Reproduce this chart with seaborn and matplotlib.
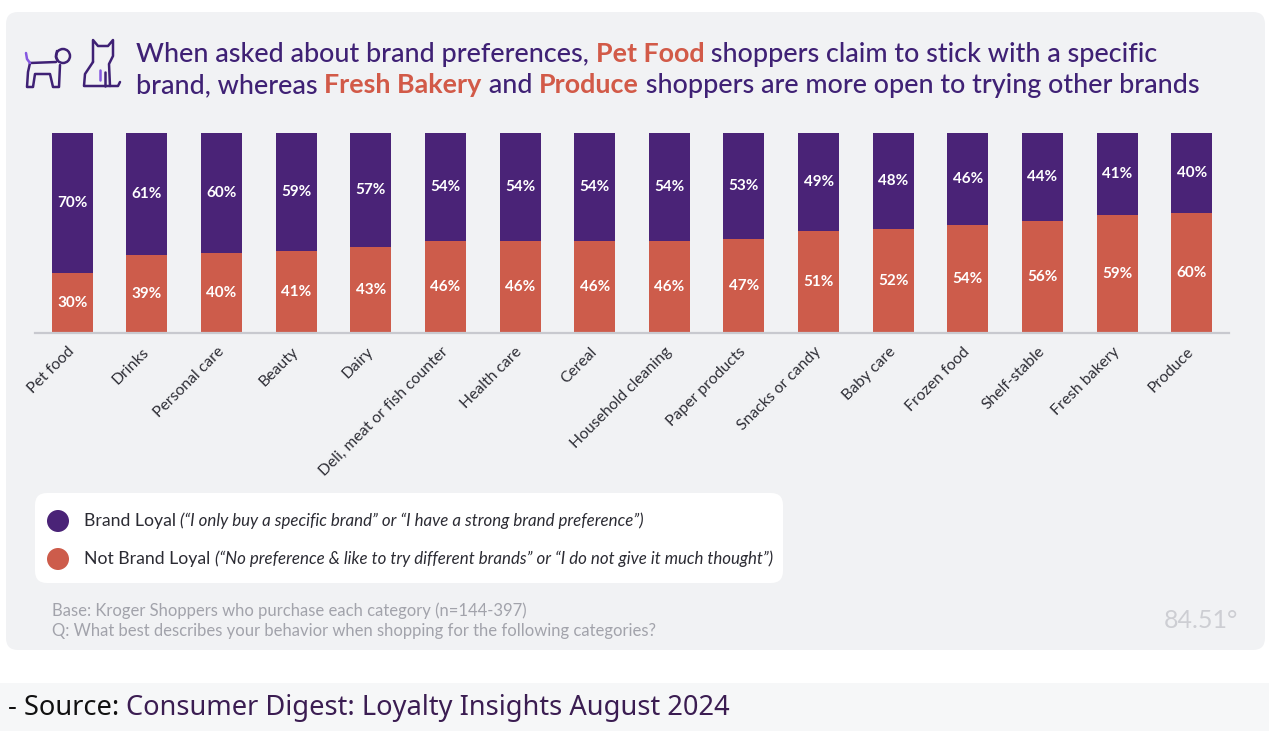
import matplotlib
matplotlib.use("Agg")
import matplotlib.pyplot as plt
import seaborn as sns
import pandas as pd
from matplotlib.patches import FancyBboxPatch, Rectangle, Circle
from matplotlib.lines import Line2D

categories = ["Pet food", "Drinks", "Personal care", "Beauty", "Dairy",
              "Deli, meat or fish counter", "Health care", "Cereal",
              "Household cleaning", "Paper products", "Snacks or candy",
              "Baby care", "Frozen food", "Shelf-stable", "Fresh bakery", "Produce"]
brand_loyal = [70, 61, 60, 59, 57, 54, 54, 54, 54, 53, 49, 48, 46, 44, 41, 40]
not_loyal = [30, 39, 40, 41, 43, 46, 46, 46, 46, 47, 51, 52, 54, 56, 59, 60]

title_line1 = [("When asked about brand preferences, ", "p"), ("Pet Food", "o"),
               (" shoppers claim to stick with a specific", "p")]
title_line2 = [("brand, whereas ", "p"), ("Fresh Bakery", "o"), (" and ", "p"),
               ("Produce", "o"), (" shoppers are more open to trying other brands", "p")]
legend_main = ["Brand Loyal", "Not Brand Loyal"]
legend_note = ["(\u201cI only buy a specific brand\u201d or \u201cI have a strong brand preference\u201d)",
               "(\u201cNo preference & like to try different brands\u201d or \u201cI do not give it much thought\u201d)"]
footnotes = ["Base: Kroger Shoppers who purchase each category (n=144-397)",
             "Q: What best describes your behavior when shopping for the following categories?"]

PURPLE = "#4a2377"
ORANGE = "#cd5c4b"
TITLE_P = "#3f2175"
TITLE_O = "#d25a48"

sns.set_theme(style="white")
plt.rcParams['font.family'] = ['Lato', 'DejaVu Sans']

W, H = 1276, 738
fig = plt.figure(figsize=(W / 100, H / 100), dpi=100)
fig.patch.set_facecolor("white")

# background canvas in pixel coordinates
bg = fig.add_axes([0, 0, 1, 1], zorder=0)
bg.set_xlim(0, W)
bg.set_ylim(H, 0)
bg.axis("off")

bg.add_patch(FancyBboxPatch((6, 12), 1259, 638, boxstyle="round,pad=0,rounding_size=12",
                            facecolor="#f1f2f4", edgecolor="none"))
bg.add_patch(FancyBboxPatch((35, 493), 748, 90, boxstyle="round,pad=0,rounding_size=12",
                            facecolor="white", edgecolor="none"))
bg.add_patch(Rectangle((0, 683), 1269, 48, facecolor="#f6f7f8", edgecolor="none"))

# icons (dog and cat outlines)
lw = 1.8
dog = [(30, 63), (28, 72), (27, 87), (33, 87), (35, 74), (50, 74), (53, 87), (59, 87), (60, 65)]
bg.add_line(Line2D(*zip(*dog), color=TITLE_P, lw=lw, solid_joinstyle="round"))
bg.add_line(Line2D([30, 56], [63, 62], color=TITLE_P, lw=lw))
bg.add_patch(Circle((63, 56), 7, facecolor="none", edgecolor=TITLE_P, lw=lw))
bg.add_line(Line2D([57, 56, 58], [51, 57, 61], color=TITLE_P, lw=lw))
bg.add_line(Line2D([26, 27, 30], [53, 59, 63], color="#8557e0", lw=lw))
cat = [(93, 62), (93, 40), (98, 46), (108, 46), (113, 40), (113, 56), (109, 64), (110, 86)]
bg.add_line(Line2D(*zip(*cat), color=TITLE_P, lw=lw, solid_joinstyle="round"))
cat2 = [(93, 62), (85, 74), (84, 86), (118, 86), (120, 82)]
bg.add_line(Line2D(*zip(*cat2), color=TITLE_P, lw=lw, solid_joinstyle="round"))
bg.add_line(Line2D([105, 105], [72, 86], color=TITLE_P, lw=lw))
bg.add_line(Line2D([100, 100], [70, 80], color="#8557e0", lw=lw))

fig.canvas.draw()
renderer = fig.canvas.get_renderer()


def text_width(s, **kw):
    t1 = bg.text(0, 0, "X" + s + "X", **kw)
    t2 = bg.text(0, 0, "XX", **kw)
    w = t1.get_window_extent(renderer).width - t2.get_window_extent(renderer).width
    t1.remove()
    t2.remove()
    return w


def rich_line(x, y, pieces, size, colors, weights):
    for s, key in pieces:
        kw = dict(fontsize=size, color=colors[key], fontweight=weights[key])
        bg.text(x, y, s, va="baseline", ha="left", **kw)
        x += text_width(s, **kw)


tcolors = {"p": TITLE_P, "o": TITLE_O}
tweights = {"p": "medium", "o": "bold"}
rich_line(136, 62, title_line1, 19.4, tcolors, tweights)
rich_line(136, 93, title_line2, 19.4, tcolors, tweights)

# legend
for i, (main, note, col) in enumerate(zip(legend_main, legend_note, [PURPLE, ORANGE])):
    yy = 521 + 38 * i
    bg.add_patch(Circle((58, yy), 11, facecolor=col, edgecolor="none"))
    kw = dict(fontsize=12.7, color="#2b2b33")
    bg.text(84, yy, main, va="center", ha="left", **kw)
    x2 = 84 + text_width(main + " ", **kw)
    bg.text(x2, yy, note, va="center", ha="left", fontsize=12.2, style="italic", color="#2b2b33")

for i, line in enumerate(footnotes):
    bg.text(52, 611 + 20 * i, line, va="center", ha="left", fontsize=12, color="#a2a3ab")

bg.text(1238, 620, "84.51\u00b0", va="center", ha="right", fontsize=18, color="#cdced3")

# source
src_font = ["Noto Sans", "DejaVu Sans"]
src_kw = dict(fontsize=19.6, va="center", ha="left", family=src_font)
bg.text(8, 708, "- Source: ", color="#111111", **src_kw)
sx = 8 + text_width("- Source: ", fontsize=19.6, family=src_font)
bg.text(sx, 708, "Consumer Digest: Loyalty Insights August 2024", color="#3b1d52", **src_kw)

# main chart
ax = fig.add_axes([35 / W, 1 - 333 / H, (1229 - 35) / W, 200 / H], zorder=1)
ax.patch.set_alpha(0)

df = pd.DataFrame({"category": categories, "loyal": brand_loyal, "not_loyal": not_loyal})
df["total"] = df["loyal"] + df["not_loyal"]

sns.barplot(data=df, x="category", y="total", color=PURPLE, saturation=1, width=0.55,
            errorbar=None, linewidth=0, ax=ax)
sns.barplot(data=df, x="category", y="not_loyal", color=ORANGE, saturation=1, width=0.55,
            errorbar=None, linewidth=0, ax=ax)

for i, (l, n) in enumerate(zip(df["loyal"], df["not_loyal"])):
    ax.text(i, n + l / 2, f"{l}%", ha="center", va="center", color="white",
            fontsize=11, fontweight="bold")
    ax.text(i, n / 2, f"{n}%", ha="center", va="center", color="white",
            fontsize=11, fontweight="bold")

ax.set_xlim(-0.5, len(categories) - 0.5)
ax.set_ylim(0, 100)
ax.set_xlabel("")
ax.set_ylabel("")
ax.set_yticks([])
for s in ["top", "right", "left"]:
    ax.spines[s].set_visible(False)
ax.spines["bottom"].set_color("#c8c9cf")
ax.spines["bottom"].set_linewidth(1.6)
ax.set_xticks(range(len(categories)))
ax.set_xticklabels(categories, rotation=45, ha="right", va="center",
                   rotation_mode="anchor", fontsize=11.3, color="#2e2e36")
ax.tick_params(axis="x", which="major", length=0, pad=12)
ax.set_xticks([i - 0.5 for i in range(len(categories))], minor=True)
ax.tick_params(axis="x", which="minor", length=5, width=1.2, color="#c8c9cf", direction="out")

fig.savefig("out.png", dpi=100, facecolor="white")
